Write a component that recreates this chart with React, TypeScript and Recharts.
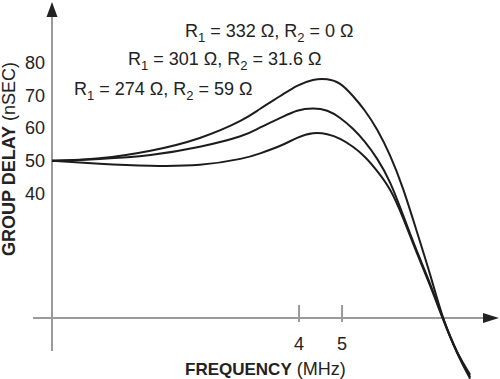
import React from 'react';
import { LineChart, Line, XAxis, YAxis, ReferenceLine, ReferenceDot } from 'recharts';

// frequency in MHz (log axis), group delay in nSEC
const freqMHz = [1.11, 1.42, 1.85, 2.39, 2.95, 3.27, 3.63, 3.96, 4.3, 4.63, 4.95, 5.29, 5.63, 6.0, 6.42, 6.86, 7.34, 7.9, 8.45, 9.08, 9.72];
const delayR332 = [50, 50.8, 53.1, 57.0, 62.2, 65.9, 69.8, 72.9, 74.7, 74.9, 73.5, 69.8, 65.3, 59.5, 51.5, 41.5, 29.2, 15.2, 2.1, -8.3, -15.3];
const delayR301 = [50, 50.6, 51.8, 54.3, 57.5, 60.2, 63.1, 65.3, 66.0, 65.3, 63.1, 59.8, 55.8, 50.6, 43.3, 33.5, 23.1, 12.4, 1.8, -8.3, -16.0];
const delayR274 = [50, 49.1, 48.5, 48.8, 50.6, 52.3, 54.6, 57.0, 58.4, 58.1, 56.7, 54.3, 51.2, 46.9, 41.1, 32.6, 22.5, 11.8, 1.5, -8.6, -16.5];

const xTicks = [4, 5];
const yTicks = [40, 50, 60, 70, 80];

// curve labels: [R1, R2]
const curveLabels = [
  ['332', '0'],
  ['301', '31.6'],
  ['274', '59'],
];

const rows = freqMHz.map((f, i) => ({
  f,
  a: delayR332[i],
  b: delayR301[i],
  c: delayR274[i],
}));

const font = 'Liberation Sans, Arial, Helvetica, sans-serif';
const ink = '#222';
const axisGray = '#9a9a9a';

const ResLabel = ({ x, y, r1, r2 }: { x: number; y: number; r1: string; r2: string }) => (
  <text x={x} y={y} fontSize={18} fill={ink} fontFamily={font}>
    R<tspan fontSize={13} dy={5}>1</tspan>
    <tspan dy={-5}>{` = ${r1} \u03A9, R`}</tspan>
    <tspan fontSize={13} dy={5}>2</tspan>
    <tspan dy={-5}>{` = ${r2} \u03A9`}</tspan>
  </text>
);

const labelPos = [
  { x: 185, y: 37 },
  { x: 128, y: 65 },
  { x: 74, y: 95 },
];

export default function App() {
  return (
    <div style={{ position: 'relative', width: 500, height: 379, background: '#fff' }}>
      <style>{'body{margin:0}'}</style>
      <LineChart width={500} height={379} data={rows} margin={{ top: 2, right: 1, bottom: 0, left: 0 }}>
        <XAxis dataKey="f" type="number" scale="log" domain={[1.11, 11.29]} allowDataOverflow hide />
        <YAxis
          type="number"
          domain={[-16.6, 98.5]}
          allowDataOverflow
          ticks={yTicks}
          interval={0}
          width={52}
          axisLine={false}
          tickLine={false}
          tickSize={0}
          tickMargin={7}
          tick={{ fontSize: 18, fill: ink, fontFamily: font }}
        />
        {/* axes */}
        <ReferenceLine
          segment={[{ x: 1.11, y: -8.05 }, { x: 1.11, y: 94.2 }]}
          stroke={axisGray}
          strokeWidth={2}
          ifOverflow="visible"
        />
        <ReferenceLine
          segment={[{ x: 1.006, y: 2 }, { x: 10.5, y: 2 }]}
          stroke={axisGray}
          strokeWidth={2}
          ifOverflow="visible"
        />
        {xTicks.map((t) => (
          <ReferenceLine
            key={'t' + t}
            segment={[{ x: t, y: 0.8 }, { x: t, y: 6 }]}
            stroke={axisGray}
            strokeWidth={2}
            ifOverflow="visible"
          />
        ))}
        {xTicks.map((t) => (
          <ReferenceDot
            key={'l' + t}
            x={t}
            y={2}
            ifOverflow="visible"
            shape={(p: any) => (
              <text x={p.cx} y={p.cy + 32} textAnchor="middle" fontSize={18} fill={ink} fontFamily={font}>
                {t}
              </text>
            )}
          />
        ))}
        <ReferenceDot
          x={1.11}
          y={98.5}
          ifOverflow="visible"
          shape={(p: any) => (
            <polygon points={`${p.cx},${p.cy} ${p.cx - 5.5},${p.cy + 15} ${p.cx + 5.5},${p.cy + 15}`} fill={ink} />
          )}
        />
        <ReferenceDot
          x={11.29}
          y={2}
          ifOverflow="visible"
          shape={(p: any) => (
            <polygon points={`${p.cx},${p.cy} ${p.cx - 16},${p.cy - 5} ${p.cx - 16},${p.cy + 5}`} fill={ink} />
          )}
        />
        <Line type="natural" dataKey="a" stroke="#1c1c1c" strokeWidth={2} dot={false} isAnimationActive={false} />
        <Line type="natural" dataKey="b" stroke="#1c1c1c" strokeWidth={2} dot={false} isAnimationActive={false} />
        <Line type="natural" dataKey="c" stroke="#1c1c1c" strokeWidth={2} dot={false} isAnimationActive={false} />
      </LineChart>
      <svg width={500} height={379} style={{ position: 'absolute', left: 0, top: 0, pointerEvents: 'none' }}>
        {curveLabels.map(([r1, r2], i) => (
          <ResLabel key={i} x={labelPos[i].x} y={labelPos[i].y} r1={r1} r2={r2} />
        ))}
        <text x={185} y={375} fontSize={17} fill={ink} fontFamily={font}>
          <tspan fontWeight="bold">FREQUENCY</tspan>
          <tspan fontSize={18}> (MHz)</tspan>
        </text>
        <text
          x={15}
          y={159}
          textAnchor="middle"
          fontSize={18}
          fill={ink}
          fontFamily={font}
          transform="rotate(-90, 15, 159)"
        >
          <tspan fontWeight="bold">GROUP DELAY</tspan>
          <tspan> (nSEC)</tspan>
        </text>
      </svg>
    </div>
  );
}
